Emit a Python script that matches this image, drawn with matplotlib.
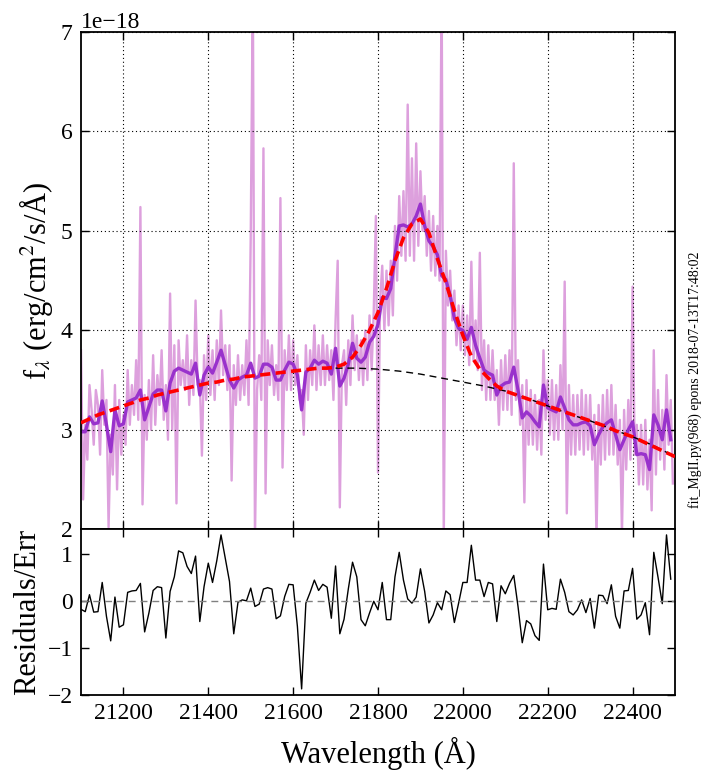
import numpy as np
import matplotlib
matplotlib.use("Agg")
import matplotlib.pyplot as plt

plt.rcParams['font.family'] = ['Liberation Serif', 'DejaVu Serif']
plt.rcParams['mathtext.fontset'] = 'stix'

# ---------------- data (flux in units of 1e-18 erg/cm2/s/A) ----------------
# raw spectrum, 5 A sampling starting at 21100
raw_start, raw_step = 21100, 5
raw_flux = [
    3.80, 2.30, 3.05, 2.70, 3.45, 3.20, 2.85, 3.40, 3.25, 2.75,
    3.60, 3.05, 3.30, 2.02, 2.95, 2.55, 3.45, 2.40, 3.30, 2.75,
    3.15, 2.85, 3.60, 3.05, 3.45, 3.15, 3.70, 3.10, 5.24, 2.25,
    3.35, 2.90, 3.50, 3.00, 3.75, 3.05, 3.55, 3.25, 3.80, 3.10,
    3.45, 2.90, 4.37, 3.00, 3.85, 2.26, 3.90, 3.45, 3.70, 3.40,
    3.95, 3.25, 3.70, 3.35, 4.30, 3.45, 3.50, 2.74, 3.75, 3.30,
    3.95, 3.35, 3.80, 3.30, 3.90, 3.45, 4.20, 3.55, 3.85, 3.40,
    3.85, 2.49, 3.65, 3.25, 3.75, 3.30, 3.65, 3.35, 3.90, 3.25,
    4.93, 7.50, 1.90, 3.40, 3.75, 3.30, 5.83, 2.36, 3.90, 3.45,
    3.85, 3.35, 3.65, 3.30, 5.33, 2.62, 3.80, 3.40, 3.95, 3.40,
    3.90, 3.45, 3.75, 3.30, 3.40, 2.95, 3.85, 3.30, 3.80, 3.45,
    4.05, 3.40, 3.85, 3.45, 3.95, 3.45, 3.85, 3.50, 3.80, 3.30,
    4.10, 4.70, 2.22, 3.65, 3.80, 3.25, 3.90, 3.45, 4.15, 3.60,
    3.95, 3.50, 3.90, 3.45, 4.00, 3.50, 4.15, 3.60, 4.20, 5.15,
    2.57, 4.30, 4.65, 4.00, 4.60, 4.05, 4.70, 4.15, 5.05, 4.50,
    5.35, 4.75, 5.40, 4.70, 6.27, 4.75, 5.73, 4.70, 5.88, 4.85,
    5.60, 5.00, 5.35, 4.75, 5.20, 4.60, 5.15, 4.55, 5.05, 4.50,
    7.50, 1.90, 4.80, 4.25, 4.60, 4.10, 4.40, 3.85, 4.25, 3.80,
    4.25, 3.75, 4.15, 3.65, 4.69, 3.70, 4.10, 3.60, 4.78, 3.40,
    3.90, 3.30, 3.85, 3.30, 3.80, 3.30, 3.60, 3.05, 3.70, 3.20,
    3.75, 3.20, 3.80, 3.15, 5.68, 3.30, 3.70, 3.05, 3.45, 2.27,
    3.50, 2.85, 3.40, 2.85, 3.35, 2.80, 3.30, 2.75, 3.80, 3.10,
    3.50, 2.95, 3.50, 2.90, 3.45, 2.90, 3.65, 3.00, 4.49, 2.16,
    3.45, 2.75, 3.35, 2.75, 3.35, 2.80, 3.40, 2.75, 3.35, 2.80,
    3.35, 2.70, 3.15, 1.90, 3.25, 2.65, 3.35, 2.70, 3.40, 2.75,
    3.45, 2.75, 3.25, 2.65, 3.10, 1.95, 3.20, 2.60, 3.30, 2.70,
    4.44, 2.75, 3.05, 2.45, 3.05, 2.45, 3.10, 2.40, 2.90, 2.19,
    3.80, 2.55, 3.40, 2.70, 3.20, 2.60, 3.55, 2.85, 3.30, 2.46,
]

# binned spectrum, 10 A bins starting at 21100
bin_start, bin_step = 21100, 10
binned_flux = [
    2.98, 2.98, 3.13, 3.06, 3.07, 3.29, 3.05, 2.78, 3.20, 3.04,
    3.06, 3.28, 3.30, 3.32, 3.40, 3.10, 3.23, 3.36, 3.40, 3.40,
    3.19, 3.47, 3.59, 3.62, 3.60, 3.58, 3.56, 3.67, 3.35, 3.55,
    3.63, 3.57, 3.68, 3.80, 3.65, 3.50, 3.42, 3.50, 3.53, 3.55,
    3.67, 3.52, 3.54, 3.66, 3.66, 3.63, 3.50, 3.50, 3.60, 3.68,
    3.66, 3.55, 3.20, 3.58, 3.62, 3.70, 3.66, 3.69, 3.67, 3.56,
    3.82, 3.44, 3.52, 3.66, 3.87, 3.72, 3.68, 3.73, 3.88, 3.94,
    4.06, 4.33, 4.32, 4.42, 4.75, 5.05, 5.06, 5.04, 5.07, 5.15,
    5.27, 5.05, 4.90, 4.84, 4.76, 4.55, 4.51, 4.35, 4.12, 4.02,
    4.00, 3.91, 4.03, 3.85, 3.72, 3.60, 3.57, 3.55, 3.35, 3.44,
    3.47, 3.48, 3.63, 3.40, 3.12, 3.18, 3.14, 3.08, 3.03, 3.45,
    3.22, 3.20, 3.18, 3.33, 3.22, 3.10, 3.05, 3.05, 3.07, 3.08,
    3.04, 2.85, 2.95, 3.03, 3.07, 3.10, 2.95, 2.80, 2.90, 3.00,
    3.08, 2.75, 2.76, 2.75, 2.60, 3.15, 3.05, 2.90, 3.20, 2.90,
]

# residuals / error for each bin
residuals = [
    -0.18, -0.23, 0.13, -0.24, -0.23, 0.39, -0.33, -0.85, 0.08, -0.56,
    -0.51, 0.18, 0.21, 0.22, 0.37, -0.66, -0.26, 0.22, 0.30, 0.28,
    -0.79, 0.20, 0.51, 1.06, 1.02, 0.73, 0.58, 0.95, -0.44, 0.30,
    0.80, 0.39, 0.85, 1.40, 0.90, 0.41, -0.70, -0.03, 0.02, 0.00,
    0.27, -0.12, -0.07, 0.25, 0.28, 0.25, -0.38, -0.32, 0.09, 0.35,
    0.34, -0.54, -1.87, -0.05, 0.18, 0.44, 0.22, 0.35, 0.29, -0.37,
    0.74, -0.70, -0.39, 0.25, 0.82, 0.51, -0.40, -0.53, -0.26, -0.01,
    -0.19, 0.39, -0.40, -0.40, 0.51, 1.03, 0.44, 0.04, -0.05, 0.08,
    0.68, 0.20, -0.47, -0.30, -0.04, -0.19, 0.21, 0.13, -0.46, -0.05,
    0.39, 0.39, 1.18, 0.44, 0.44, 0.09, 0.39, 0.36, -0.44, 0.32,
    0.15, 0.37, 0.54, -0.12, -0.89, -0.42, -0.49, -0.74, -0.84, 0.78,
    -0.19, -0.16, -0.18, 0.46, 0.18, -0.23, -0.30, -0.19, 0.02, -0.25,
    0.05, -0.58, 0.12, 0.11, -0.06, 0.34, -0.33, -0.58, 0.21, 0.22,
    0.69, -0.39, -0.30, -0.04, -0.72, 1.03, 0.50, -0.06, 1.40, 0.46,
]

# best-fit model (20 A sampling)
fit_start, fit_step = 21100, 20
fit_flux = [
    3.07, 3.11, 3.15, 3.18, 3.21, 3.24, 3.27, 3.30, 3.32, 3.35,
    3.37, 3.39, 3.41, 3.43, 3.45, 3.47, 3.48, 3.50, 3.51, 3.53,
    3.54, 3.55, 3.56, 3.57, 3.58, 3.59, 3.60, 3.61, 3.62, 3.62,
    3.63, 3.66, 3.73, 3.85, 4.00, 4.18, 4.42, 4.70, 4.93, 5.07,
    5.12, 4.98, 4.72, 4.48, 4.20, 3.95, 3.74, 3.61, 3.52, 3.44,
    3.39, 3.36, 3.33, 3.30, 3.27, 3.24, 3.21, 3.18, 3.15, 3.12,
    3.09, 3.06, 3.03, 2.99, 2.96, 2.93, 2.89, 2.85, 2.81, 2.77,
    2.73,
]

# continuum component (50 A sampling)
cont_wave = [21700, 21750, 21800, 21850, 21900, 21950, 22000, 22050, 22100,
             22150, 22200, 22250, 22300, 22350, 22400, 22450, 22500]
cont_flux = [3.62, 3.62, 3.61, 3.59, 3.56, 3.52, 3.48, 3.44, 3.39,
             3.32, 3.24, 3.16, 3.09, 3.01, 2.93, 2.84, 2.73]

SCALE = 1e-18
xticks = [21200, 21400, 21600, 21800, 22000, 22200, 22400]
stamp = "fit_MgII.py(968) epons 2018-07-13T17:48:02"

raw_wave = raw_start + raw_step * np.arange(len(raw_flux))
bin_wave = bin_start + bin_step * np.arange(len(binned_flux))
fit_wave = fit_start + fit_step * np.arange(len(fit_flux))

# ---------------- figure ----------------
fig = plt.figure(figsize=(7.12, 7.82), dpi=100)
gs = fig.add_gridspec(2, 1, height_ratios=[3, 1], hspace=0,
                      left=81/712, right=675/712, top=1-32/782, bottom=1-695/782)
ax = fig.add_subplot(gs[0])
axr = fig.add_subplot(gs[1], sharex=ax)

ax.plot(raw_wave, np.array(raw_flux) * SCALE, color='#dda0dd', lw=1.7, zorder=1)
ax.plot(bin_wave, np.array(binned_flux) * SCALE, color='#9932cc', lw=2.4, zorder=2)
ax.plot(cont_wave, np.array(cont_flux) * SCALE, color='black', lw=1.0,
        dashes=(5, 3.5), zorder=3)
ax.plot(fit_wave, np.array(fit_flux) * SCALE, color='red', lw=2.6,
        dashes=(2.8, 1.5), zorder=4)

ax.set_xlim(21100, 22500)
ax.set_ylim(2e-18, 7e-18)
ax.set_yticks(np.arange(2, 8) * SCALE)
ax.grid(True, color='black', linestyle=(0, (1, 2.5)), linewidth=0.8)
ax.set_ylabel(r'f$_\lambda$ (erg/cm$^2$/s/Å)', fontsize=22)
ax.tick_params(labelbottom=False)
ax.yaxis.get_offset_text().set_fontsize(17)

axr.plot(bin_wave, residuals, color='black', lw=1.0)
axr.axhline(0, color='gray', lw=1.0, dashes=(5, 3.5))
axr.set_ylim(-2, 1.52)
axr.set_yticks([-2, -1, 0, 1])
axr.set_xticks(xticks)
axr.set_ylabel('Residuals/Err', fontsize=22)
axr.set_xlabel('Wavelength (Å)', fontsize=22, labelpad=9)

for a in (ax, axr):
    a.tick_params(direction='in', top=True, right=True, length=6, width=1,
                  labelsize=17, pad=6)
    for s in a.spines.values():
        s.set_linewidth(1.3)

fig.text(0.976, 0.514, stamp, rotation=90, fontsize=10, ha='center', va='center')

fig.savefig('out.png', dpi=100)
